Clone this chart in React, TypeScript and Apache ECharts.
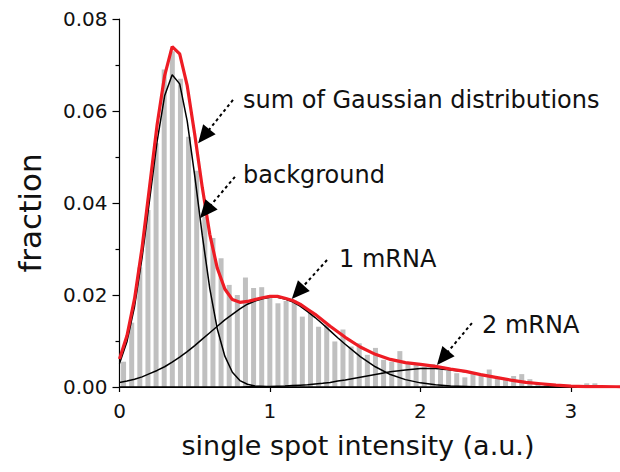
import { useEffect, useRef } from 'react';
import * as echarts from 'echarts';

// Histogram bin centres (a.u.) and fractions
const binCenters = [
  0.027, 0.081, 0.135, 0.189, 0.243, 0.297, 0.351, 0.405, 0.459, 0.513,
  0.567, 0.621, 0.675, 0.729, 0.783, 0.837, 0.891, 0.945, 0.999, 1.053,
  1.107, 1.161, 1.215, 1.269, 1.323, 1.377, 1.431, 1.485, 1.539, 1.593,
  1.647, 1.701, 1.755, 1.809, 1.863, 1.917, 1.971, 2.025, 2.079, 2.133,
  2.187, 2.241, 2.295, 2.349, 2.403, 2.457, 2.511, 2.565, 2.619, 2.673,
  2.727, 2.781, 2.835, 2.889, 2.943, 2.997, 3.051, 3.105, 3.159, 3.213,
  3.267,
];
const barValues = [
  0.0055, 0.014, 0.026, 0.0385, 0.053, 0.069, 0.073, 0.067, 0.0544, 0.047,
  0.037, 0.0324, 0.028, 0.0222, 0.02, 0.0238, 0.0215, 0.0217, 0.02, 0.0182,
  0.0187, 0.0188, 0.0153, 0.0162, 0.0131, 0.0135, 0.0099, 0.0125, 0.0088, 0.0095,
  0.007, 0.0085, 0.0059, 0.0055, 0.0078, 0.0051, 0.0048, 0.0044, 0.005, 0.0037,
  0.0035, 0.003, 0.0021, 0.003, 0.0026, 0.0038, 0.0022, 0.0015, 0.0024, 0.0028,
  0.0017, 0.0008, 0.0004, 0.0003, 0.0003, 0.0002, 0.0002, 0.0008, 0.0008, 0.0002,
  0.0001,
];

// Fitted curves, read at these x positions
const curveX = [
  0, 0.05, 0.1, 0.15, 0.2, 0.25, 0.3, 0.35, 0.4, 0.45,
  0.5, 0.55, 0.6, 0.65, 0.7, 0.75, 0.8, 0.85, 0.9, 0.95,
  1.0, 1.05, 1.1, 1.15, 1.2, 1.25, 1.3, 1.35, 1.4, 1.45,
  1.5, 1.6, 1.7, 1.8, 1.9, 2.0, 2.1, 2.2, 2.3, 2.4,
  2.5, 2.6, 2.7, 2.8, 2.9, 3.0, 3.1, 3.2, 3.3, 3.4,
];
const backgroundCurve = [
  0.0051, 0.0099, 0.0175, 0.0281, 0.0407, 0.0534, 0.0633, 0.0679, 0.0659, 0.0578,
  0.0459, 0.033, 0.0214, 0.0126, 0.0067, 0.0032, 0.0014, 0.0006, 0.0002, 0.0001,
  0, 0, 0, 0, 0, 0, 0, 0, 0, 0,
  0, 0, 0, 0, 0, 0, 0, 0, 0, 0,
  0, 0, 0, 0, 0, 0, 0, 0, 0, 0,
];
const oneMRNACurve = [
  0.001, 0.0013, 0.0017, 0.0022, 0.0029, 0.0036, 0.0044, 0.0054, 0.0065, 0.0077,
  0.009, 0.0104, 0.0118, 0.0132, 0.0146, 0.0158, 0.017, 0.018, 0.0187, 0.0192,
  0.0195, 0.0195, 0.0191, 0.0185, 0.0176, 0.0164, 0.0151, 0.0137, 0.0122, 0.0107,
  0.0093, 0.0066, 0.0044, 0.0027, 0.0016, 0.0009, 0.0005, 0.0002, 0.0001, 0,
  0, 0, 0, 0, 0, 0, 0, 0, 0, 0,
];
const twoMRNACurve = [
  0, 0, 0, 0, 0, 0, 0, 0, 0, 0,
  0, 0, 0, 0, 0, 0, 0, 0.00005, 0.00006, 0.0001,
  0.0001, 0.00016, 0.0002, 0.0003, 0.0004, 0.0005, 0.00065, 0.0008, 0.001, 0.0013,
  0.0015, 0.0021, 0.0027, 0.0033, 0.0037, 0.004, 0.004, 0.0037, 0.0033, 0.0027,
  0.0021, 0.0015, 0.001, 0.00065, 0.0004, 0.0002, 0.0001, 0.0001, 0, 0,
];
const sumCurve = [
  0.0061, 0.0112, 0.0192, 0.0303, 0.0436, 0.057, 0.0677, 0.074, 0.0724, 0.0655,
  0.0549, 0.0434, 0.0332, 0.0258, 0.0213, 0.019, 0.0184, 0.0186, 0.019, 0.0194,
  0.0197, 0.0197, 0.0193, 0.0188, 0.018, 0.0169, 0.0158, 0.0145, 0.0132, 0.012,
  0.0108, 0.0087, 0.0071, 0.006, 0.0053, 0.0049, 0.0045, 0.0039, 0.0034, 0.0027,
  0.0021, 0.0015, 0.001, 0.0007, 0.0004, 0.0002, 0.0001, 0.0001, 0.00005, 0,
];

// Annotations
const annotationTexts = ['sum of Gaussian distributions', 'background', '1 mRNA', '2 mRNA'];
const arrowFromX = [0.754, 0.767, 1.379, 2.342];
const arrowFromY = [0.0624, 0.0457, 0.0276, 0.0139];
const arrowToX = [0.56, 0.573, 1.185, 2.148];
const arrowToY = [0.0545, 0.0382, 0.0206, 0.0063];

const xTitle = 'single spot intensity (a.u.)';
const yTitle = 'fraction';

const FONT = '"DejaVu Sans", sans-serif';

export default function App() {
  const ref = useRef<HTMLDivElement>(null);
  useEffect(() => {
    const chart = echarts.init(ref.current!, null, { renderer: 'svg' });
    const zip = (ys: number[]) => curveX.map((x, i) => [x, ys[i]]);
    const textPos = [
      [243, 100],
      [243, 175],
      [339, 259],
      [482, 325],
    ];
    chart.setOption({
      animation: false,
      backgroundColor: '#ffffff',
      grid: { left: 119.5, top: 19, right: 0, bottom: 85, outerBoundsMode: 'none' },
      xAxis: {
        type: 'value',
        min: 0,
        max: 3.326,
        interval: 1,
        axisLine: { lineStyle: { color: '#000', width: 1.2 } },
        axisTick: { length: 5, lineStyle: { color: '#000', width: 1.2 } },
        axisLabel: {
          margin: 14,
          fontFamily: FONT,
          fontSize: 20,
          color: '#111',
          showMaxLabel: false,
          formatter: (v: number) => (Math.abs(v - Math.round(v)) < 1e-9 ? String(Math.round(v)) : ''),
        },
        splitLine: { show: false },
      },
      yAxis: {
        type: 'value',
        min: 0,
        max: 0.08,
        interval: 0.02,
        axisLine: { show: true, lineStyle: { color: '#000', width: 1.2 } },
        axisTick: { show: true, length: 7, lineStyle: { color: '#000', width: 1.2 } },
        minorTick: { show: true, splitNumber: 2, length: 4, lineStyle: { color: '#000', width: 1.2 } },
        axisLabel: {
          margin: 12,
          fontFamily: FONT,
          fontSize: 20,
          color: '#111',
          formatter: (v: number) => v.toFixed(2),
        },
        splitLine: { show: false },
      },
      series: [
        {
          type: 'bar',
          data: binCenters.map((x, i) => [x, barValues[i]]),
          barWidth: 5,
          itemStyle: { color: '#c0c0c0' },
          z: 1,
        },
        {
          type: 'line',
          data: zip(backgroundCurve),
          showSymbol: false,
          lineStyle: { color: '#000', width: 1.5 },
          z: 2,
        },
        {
          type: 'line',
          data: zip(oneMRNACurve),
          showSymbol: false,
          lineStyle: { color: '#000', width: 1.5 },
          z: 2,
        },
        {
          type: 'line',
          data: zip(twoMRNACurve),
          showSymbol: false,
          lineStyle: { color: '#000', width: 1.5 },
          z: 2,
        },
        {
          type: 'line',
          data: zip(sumCurve),
          showSymbol: false,
          lineStyle: { color: '#ee1c24', width: 3.2 },
          z: 3,
          markLine: {
            silent: true,
            symbol: ['none', 'triangle'],
            symbolSize: [16, 18],
            lineStyle: { color: '#000', width: 2, type: [3, 3] },
            itemStyle: { color: '#000' },
            label: { show: false },
            data: arrowFromX.map((x, i) => [
              { coord: [x, arrowFromY[i]] },
              { coord: [arrowToX[i], arrowToY[i]] },
            ]),
          },
        },
      ],
      graphic: [
        ...annotationTexts.map((t, i) => ({
          type: 'text',
          x: textPos[i][0],
          y: textPos[i][1],
          style: {
            text: t,
            fontFamily: FONT,
            fontSize: 24,
            fill: '#111',
            align: 'left',
            verticalAlign: 'middle',
          },
        })),
        {
          type: 'text',
          x: 358,
          y: 445,
          style: {
            text: xTitle,
            fontFamily: FONT,
            fontSize: 27,
            fill: '#111',
            align: 'center',
            verticalAlign: 'middle',
          },
        },
        {
          type: 'text',
          x: 30,
          y: 213,
          rotation: Math.PI / 2,
          style: {
            text: yTitle,
            fontFamily: FONT,
            fontSize: 31,
            fill: '#111',
            align: 'center',
            verticalAlign: 'middle',
          },
        },
      ],
    });
    return () => chart.dispose();
  }, []);
  return (
    <div
      ref={ref}
      style={{ position: 'fixed', left: 0, top: 0, width: 620, height: 472, background: '#fff' }}
    />
  );
}
